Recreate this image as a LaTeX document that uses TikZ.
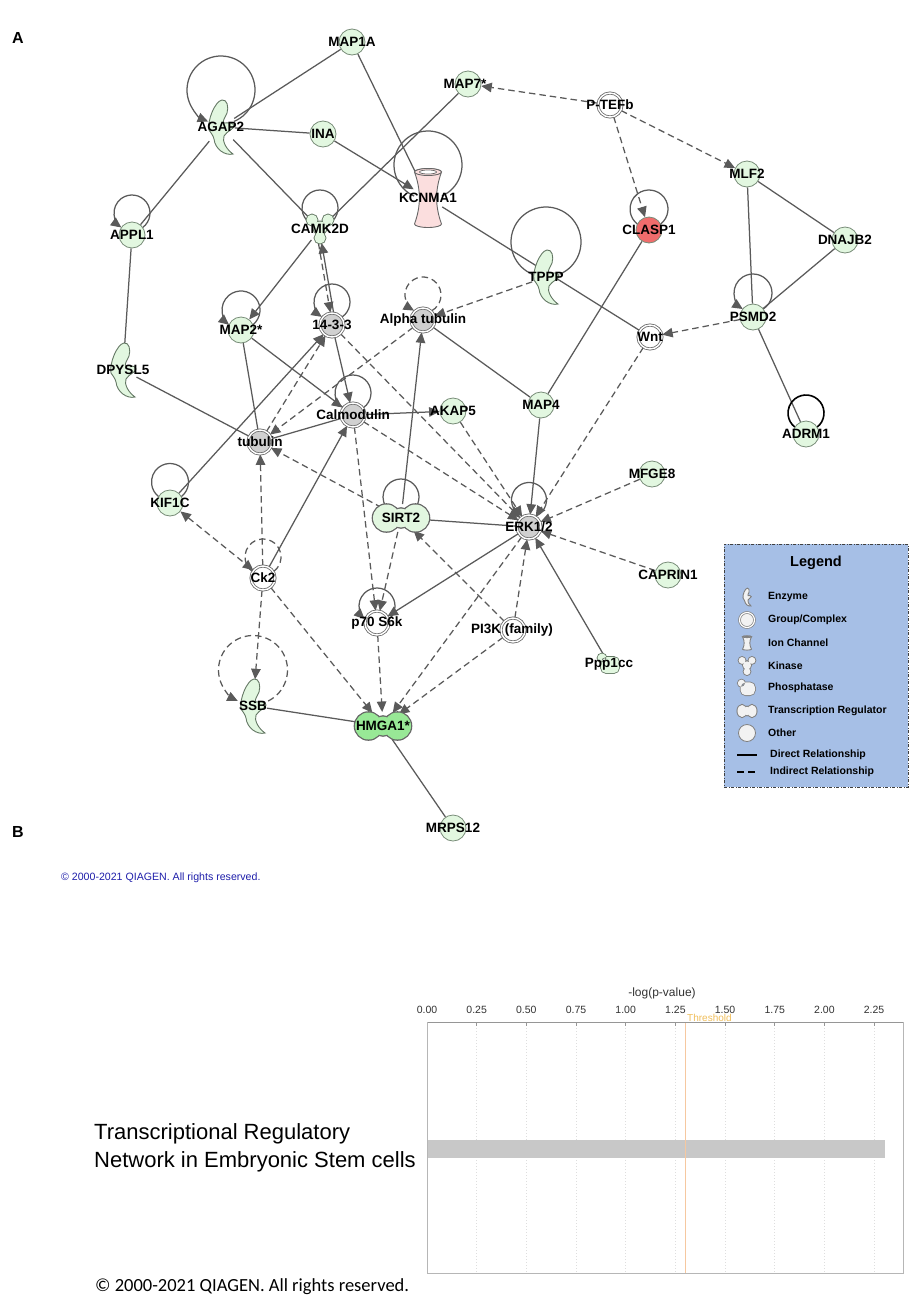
\documentclass[tikz,border=0pt]{standalone}
\usepackage{fontspec}
\setmainfont{Liberation Sans}
\newfontfamily\calfont{Carlito}
\usetikzlibrary{arrows.meta,shapes.geometric,calc}
\pgfdeclarelayer{bgl}
\pgfdeclarelayer{edges}
\pgfdeclarelayer{glyphs}
\pgfsetlayers{bgl,edges,glyphs,main}

\definecolor{edgec}{RGB}{90,90,90}
\definecolor{genefill}{RGB}{226,247,224}
\definecolor{genedraw}{RGB}{120,140,120}
\definecolor{grpfill}{RGB}{208,208,208}
\definecolor{grpdraw}{RGB}{105,105,105}
\definecolor{claspfill}{RGB}{240,108,108}
\definecolor{kcnfill}{RGB}{251,222,222}
\definecolor{hmgfill}{RGB}{152,232,150}
\definecolor{glyphdraw}{RGB}{100,120,100}
\definecolor{legfill}{RGB}{166,191,230}
\definecolor{legicon}{RGB}{242,242,242}
\definecolor{legdraw}{RGB}{128,128,128}
\definecolor{cpblue}{RGB}{30,30,170}
\definecolor{barc}{RGB}{200,200,200}
\definecolor{thrline}{RGB}{246,200,160}
\definecolor{thrt}{RGB}{240,190,90}
\definecolor{axc}{RGB}{150,150,150}
\definecolor{gridc}{RGB}{222,222,222}

\tikzset{
  edge/.style={draw=edgec, line width=1.25pt},
  dir/.style={-{Triangle[length=10.5pt,width=9.5pt]}},
  bidir/.style={{Triangle[length=10.5pt,width=9.5pt]}-{Triangle[length=10.5pt,width=9.5pt]}},
  ind/.style={dash pattern=on 6.5pt off 4pt},
  lab/.style={font=\bfseries\fontsize{13.5}{14}\selectfont, text=black, inner sep=0pt},
  gene/.style={circle, minimum size=26pt, inner sep=0pt, fill=genefill, draw=genedraw, line width=0.8pt},
  grp/.style={circle, minimum size=24pt, inner sep=0pt, draw=grpdraw, line width=0.8pt, double=white, double distance=1.4pt},
  ghost/.style={ellipse, inner sep=0pt, outer sep=0pt},
  legt/.style={font=\bfseries\fontsize{10.5}{12}\selectfont, anchor=west, inner sep=0pt},
  tickl/.style={font=\fontsize{10.5}{12}\selectfont, text=black!80, inner sep=0pt},
}

\newcommand{\selfloop}[5][]{%
  \pgfmathsetmacro{\slang}{asin(max(-1,min(1,(#5*#5-#4*#4-#3*#3)/(2*#4*#3))))}%
  \pgfmathsetmacro{\slend}{180-\slang}%
  \draw[edge,#1] ($(#2.center)+(0,#3)+({#4*cos(\slang)},{#4*sin(\slang)})$) arc[start angle=\slang, end angle=\slend, radius=#4];}

\newcommand{\enzymeglyph}[2]{\draw[fill=#1,draw=#2,line width=0.9pt] (-12,-3) .. controls (-14,6) and (-6,26) .. (1,27) .. controls (6,28) and (8,20) .. (6,14) .. controls (4,9) and (1,6) .. (3,4) .. controls (6,4) and (13,5) .. (13,1) .. controls (13,-2) and (6,-4) .. (3,-9) .. controls (1,-14) and (5,-22) .. (12,-27) .. controls (4,-29) and (-6,-22) .. (-7,-12) .. controls (-8,-8) and (-10,-6) .. cycle;}

\newcommand{\kinaseglyph}[2]{%
  \draw[draw=#2, line width=1.8pt] (-8,9) circle (5.5) (8,9) circle (5.5) (0,-9) circle (5.5) (0,1) circle (6.5);
  \fill[#1] (-8,9) circle (5.5) (8,9) circle (5.5) (0,-9) circle (5.5) (0,1) circle (6.5);}

\newcommand{\trglyph}[3]{%
  \draw[draw=#2, line width=#3] (-14.5,0) circle (13.5) (14.5,0) circle (13.5) (0,0) ellipse [x radius=9, y radius=9.5];
  \fill[#1] (-14.5,0) circle (13.5) (14.5,0) circle (13.5) (0,0) ellipse [x radius=9, y radius=9.5];}

\newcommand{\ionglyph}[2]{%
  \draw[fill=#1, draw=#2, line width=0.9pt] (-13.5,26) .. controls (-7,8) and (-7,-8) .. (-13.5,-26) arc[start angle=180, end angle=360, x radius=13.5, y radius=3.5] .. controls (7,-8) and (7,8) .. (13.5,26) arc[start angle=0, end angle=180, x radius=13.5, y radius=3.5] -- cycle;
  \draw[fill=#1, draw=#2, line width=0.9pt] (0,26) ellipse [x radius=13.5, y radius=3.5];
  \draw[fill=white, draw=#2, line width=0.7pt] (0,26) ellipse [x radius=8.5, y radius=2];}

\newcommand{\phosglyph}[2]{%
  \draw[draw=#2, line width=1.6pt] (-7,6) circle (4.5) (-8,-9) [rounded corners=5pt] rectangle (10,7);
  \fill[#1] (-7,6) circle (4.5) (-8,-9) [rounded corners=5pt] rectangle (10,7);}

\begin{document}
\begin{tikzpicture}[x=1pt,y=1pt]
\begin{pgfonlayer}{bgl}
\fill[white] (0,0) rectangle (916,-1299);
\end{pgfonlayer}
\useasboundingbox (0,0) rectangle (916,-1299);

% panel letters
\node[font=\bfseries\fontsize{16}{18}\selectfont] (pa) at (18,-38) {A};
\node[font=\bfseries\fontsize{16}{18}\selectfont] (pb) at (18,-832) {B};

% ---------- gene nodes ----------
\node[gene, label={[lab]center:MAP1A}] (map1a) at (352,-42) {};
\node[gene, label={[lab,xshift=-3pt]center:MAP7*}] (map7) at (468,-84) {};
\node[gene, label={[lab]center:INA}] (ina) at (323,-134) {};
\node[gene, label={[lab]center:MLF2}] (mlf2) at (747,-174) {};
\node[gene, fill=claspfill, label={[lab]center:CLASP1}] (clasp1) at (649,-230) {};
\node[gene, label={[lab]center:DNAJB2}] (dnajb2) at (845,-240) {};
\node[gene, label={[lab]center:APPL1}] (appl1) at (132,-235) {};
\node[gene, label={[lab]center:PSMD2}] (psmd2) at (753,-317) {};
\node[gene, label={[lab]center:MAP2*}] (map2) at (241,-330) {};
\node[gene, label={[lab]center:AKAP5}] (akap5) at (453,-411) {};
\node[gene, label={[lab]center:MAP4}] (map4) at (541,-405) {};
\node[gene, label={[lab]center:ADRM1}] (adrm1) at (806,-434) {};
\node[gene, label={[lab]center:MFGE8}] (mfge8) at (652,-474) {};
\node[gene, label={[lab]center:KIF1C}] (kif1c) at (170,-503) {};
\node[gene, label={[lab]center:CAPRIN1}] (caprin1) at (668,-575) {};
\node[gene, label={[lab]center:MRPS12}] (mrps12) at (453,-828) {};

% ---------- groups / complexes ----------
\node[grp, fill=white, label={[lab]center:P-TEFb}] (ptefb) at (610,-105) {};
\node[grp, fill=white, label={[lab]center:Wnt}] (wnt) at (650,-337) {};
\node[grp, fill=grpfill, label={[lab]center:14-3-3}] (ywha) at (332,-325) {};
\node[grp, fill=grpfill, label={[lab]center:Alpha tubulin}] (atub) at (423,-320) {};
\node[grp, fill=grpfill, label={[lab]center:Calmodulin}] (calm) at (353,-415) {};
\node[grp, fill=grpfill, label={[lab]center:tubulin}] (tub) at (260,-442) {};
\node[grp, fill=grpfill, label={[lab]center:ERK1/2}] (erk) at (529,-527) {};
\node[grp, fill=white, label={[lab]center:Ck2}] (ck2) at (263,-578) {};
\node[grp, fill=white, label={[lab]center:p70 S6k}] (p70) at (377,-623) {};
\node[grp, fill=white, label={[lab,xshift=-1pt]center:PI3K (family)}] (pi3k) at (513,-630) {};

% ---------- glyph anchor nodes ----------
\node[ghost, minimum width=28pt, minimum height=52pt, label={[lab]center:AGAP2}] (agap2) at (221,-127) {};
\node[ghost, minimum width=28pt, minimum height=52pt, label={[lab]center:TPPP}] (tppp) at (546,-277) {};
\node[ghost, minimum width=28pt, minimum height=52pt, label={[lab]center:DPYSL5}] (dpysl5) at (123,-370) {};
\node[ghost, minimum width=28pt, minimum height=54pt, label={[lab]center:SSB}] (ssb) at (253,-706) {};
\node[ghost, minimum width=30pt, minimum height=58pt, label={[lab]center:KCNMA1}] (kcnma1) at (428,-198) {};
\node[ghost, minimum width=28pt, minimum height=28pt, label={[lab]center:CAMK2D}] (camk2d) at (320,-229) {};
\node[ghost, minimum width=58pt, minimum height=28pt, label={[lab]center:SIRT2}] (sirt2) at (401,-518) {};
\node[ghost, minimum width=58pt, minimum height=28pt, label={[lab]center:HMGA1*}] (hmga1) at (383,-726) {};
\node[ghost, minimum width=22pt, minimum height=20pt, label={[lab]center:Ppp1cc}] (ppp1cc) at (609,-664) {};

% ---------- glyphs ----------
\begin{pgfonlayer}{glyphs}
\begin{scope}[shift={(agap2.center)}]\enzymeglyph{genefill}{glyphdraw}\end{scope}
\begin{scope}[shift={(tppp.center)}]\enzymeglyph{genefill}{glyphdraw}\end{scope}
\begin{scope}[shift={(dpysl5.center)}]\enzymeglyph{genefill}{glyphdraw}\end{scope}
\begin{scope}[shift={(ssb.center)}]\enzymeglyph{genefill}{glyphdraw}\end{scope}
\begin{scope}[shift={(kcnma1.center)}]\ionglyph{kcnfill}{black!60}\end{scope}
\begin{scope}[shift={(camk2d.center)}]\kinaseglyph{genefill}{glyphdraw}\end{scope}
\begin{scope}[shift={(sirt2.center)}]\trglyph{genefill}{black!60}{2.6pt}\end{scope}
\begin{scope}[shift={(hmga1.center)}]\trglyph{hmgfill}{black!60}{2.6pt}\end{scope}
\begin{scope}[shift={(ppp1cc.center)}]\phosglyph{genefill}{glyphdraw}\end{scope}
\end{pgfonlayer}

% ---------- connectors ----------
\begin{pgfonlayer}{edges}
\draw[edge] (agap2) -- (map1a);
\draw[edge] (agap2) -- (ina);
\draw[edge] (agap2) -- (appl1);
\draw[edge] (agap2) -- (camk2d);
\draw[edge] (map1a) -- (kcnma1);
\draw[edge,dir] (ina) -- (kcnma1);
\draw[edge] (map7) -- (camk2d);
\draw[edge] (kcnma1) -- (wnt);
\draw[edge] (appl1) -- (dpysl5);
\draw[edge,dir] (camk2d) -- (map2);
\draw[edge,dir] ([xshift=1.6pt]ywha.north) -- ([xshift=1.6pt]camk2d.south);
\draw[edge,ind,dir] ([xshift=-1.6pt]camk2d.south) -- ([xshift=-1.6pt]ywha.north);
\draw[edge] (map2) -- (tub);
\draw[edge] (map2) -- (calm);
\draw[edge,dir] (ywha) -- (calm);
\draw[edge] (atub) -- (map4);
\draw[edge,dir] (sirt2) -- (atub);
\draw[edge] (clasp1) -- (map4);
\draw[edge] (mlf2) -- (dnajb2);
\draw[edge] (mlf2) -- (psmd2);
\draw[edge] (dnajb2) -- (psmd2);
\draw[edge] (psmd2) -- (adrm1);
\draw[edge,dir] (map4) -- (erk);
\draw[edge,dir] (ppp1cc) -- (erk);
\draw[edge,dir] (erk) -- (p70);
\draw[edge] (sirt2) -- (erk);
\draw[edge,dir] (calm) -- (akap5);
\draw[edge] (tub) -- (calm);
\draw[edge] (dpysl5) -- (tub);
\draw[edge,dir] (kif1c) -- (ywha);
\draw[edge,dir] (ck2) -- (calm);
\draw[edge] (ssb) -- (hmga1);
\draw[edge] (hmga1) -- (mrps12);
\draw[edge,ind,dir] (ptefb) -- (map7);
\draw[edge,ind,dir] (ptefb) -- (clasp1);
\draw[edge,ind,dir] (ptefb) -- (mlf2);
\draw[edge,ind,dir] (ywha) -- (erk);
\draw[edge,ind,dir] (tub) -- (ywha);
\draw[edge,ind,dir] (tppp) -- (atub);
\draw[edge,ind,dir] (atub) -- (tub);
\draw[edge,ind,dir] (psmd2) -- (wnt);
\draw[edge,ind,dir] (wnt) -- (erk);
\draw[edge,ind,dir] (mfge8) -- (erk);
\draw[edge,ind,dir] (caprin1) -- (erk);
\draw[edge,ind,dir] (pi3k) -- (erk);
\draw[edge,ind,dir] (pi3k) -- (sirt2);
\draw[edge,ind,dir] (pi3k) -- (hmga1);
\draw[edge,ind,dir] (erk) -- (hmga1);
\draw[edge,ind,dir] (sirt2) -- (tub);
\draw[edge,ind,dir] (sirt2) -- (p70);
\draw[edge,ind,dir] (calm) -- (erk);
\draw[edge,ind,dir] (calm) -- (p70);
\draw[edge,ind,dir] (akap5) -- (erk);
\draw[edge,ind,bidir] (kif1c) -- (ck2);
\draw[edge,ind,dir] (ck2) -- (tub);
\draw[edge,ind,dir] (ck2) -- (ssb);
\draw[edge,ind,dir] (ck2) -- (hmga1);
\draw[edge,ind,dir] (p70) -- (hmga1);
% self loops
\selfloop[dir]{agap2}{37}{34}{14}
\selfloop{kcnma1}{33}{34}{14}
\selfloop{tppp}{35}{35}{14}
\selfloop[dir]{appl1}{22}{18}{13}
\selfloop{camk2d}{21}{18}{12}
\selfloop{clasp1}{21}{19}{13}
\selfloop[dir]{psmd2}{24}{19}{13}
\selfloop[dir]{map2}{20}{19}{13}
\selfloop[dir]{ywha}{23}{18}{13}
\selfloop[dir,ind]{atub}{25}{18}{13}
\selfloop[dir]{calm}{22}{18}{13}
\selfloop[dir]{erk}{27}{17.5}{14}
\selfloop{sirt2}{21}{18}{19}
\selfloop{kif1c}{21}{18.5}{13}
\selfloop[ind]{ck2}{21}{18}{13}
\selfloop[dir]{p70}{17}{18}{13}
\selfloop[dir,ind]{ssb}{36}{34.5}{16}
\selfloop[draw=black,line width=1.6pt]{adrm1}{21}{18}{13}
\end{pgfonlayer}

% ---------- legend ----------
\node[draw=black!75, fill=legfill, line width=0.8pt, dash pattern=on 3pt off 1.5pt on 1pt off 1.5pt, minimum width=184pt, minimum height=243pt, anchor=north west, inner sep=0pt] (legend) at (724,-544) {};
\node[font=\bfseries\fontsize{14.5}{16}\selectfont, inner sep=0pt] (legtitle) at (816,-563) {Legend};
\begin{scope}[shift={(747,-597)}, scale=0.33]\enzymeglyph{legicon}{legdraw}\end{scope}
\node[circle, minimum size=15pt, inner sep=0pt, draw=legdraw, line width=0.7pt, double=white, double distance=1.2pt, fill=legicon] (lgi2) at (747,-620) {};
\begin{scope}[shift={(747,-643)}, xscale=0.33, yscale=0.24]\ionglyph{legicon}{legdraw}\end{scope}
\begin{scope}[shift={(747,-666)}, scale=0.62]\kinaseglyph{legicon}{legdraw}\end{scope}
\begin{scope}[shift={(747,-688)}, scale=0.8]\phosglyph{legicon}{legdraw}\end{scope}
\begin{scope}[shift={(747,-711)}, xscale=0.34, yscale=0.45]\trglyph{legicon}{legdraw}{2pt}\end{scope}
\node[circle, minimum size=17pt, inner sep=0pt, draw=legdraw, line width=0.8pt, fill=legicon] (lgi7) at (747,-733) {};
\coordinate (ld1) at (737,-755);
\coordinate (ld2) at (757,-755);
\coordinate (li1) at (737,-772);
\coordinate (li2) at (757,-772);
\draw[line width=1.3pt, black] (ld1) -- (ld2);
\draw[line width=1.3pt, black, dash pattern=on 7pt off 4pt] (li1) -- (li2);
\node[legt] (lt1) at (768,-597) {Enzyme};
\node[legt] (lt2) at (768,-620) {Group/Complex};
\node[legt] (lt3) at (768,-643) {Ion Channel};
\node[legt] (lt4) at (768,-666) {Kinase};
\node[legt] (lt5) at (768,-688) {Phosphatase};
\node[legt] (lt6) at (768,-711) {Transcription Regulator};
\node[legt] (lt7) at (768,-733) {Other};
\node[legt] (lt8) at (770,-755) {Direct Relationship};
\node[legt] (lt9) at (770,-772) {Indirect Relationship};

% ---------- copyright (network) ----------
\node[font=\fontsize{10.6}{12}\selectfont, text=cpblue, anchor=west, inner sep=0pt] (cp1) at (61,-878) {\textcopyright\ 2000-2021 QIAGEN. All rights reserved.};

% ---------- chart ----------
\foreach \i/\t in {0/0.00,1/0.25,2/0.50,3/0.75,4/1.00,5/1.25,6/1.50,7/1.75,8/2.00,9/2.25}{
  \pgfmathsetmacro{\xx}{427+\i*49.675}
  \draw[gridc, line width=0.7pt, dash pattern=on 1pt off 2pt] (\xx,-1022) -- (\xx,-1273);
  \draw[axc, line width=0.8pt] (\xx,-1022) -- (\xx,-1026);
  \node[tickl] (tk\i) at (\xx,-1010) {\t};
}
\fill[barc] (427,-1140) rectangle (885,-1158);
\coordinate (thtop) at (685.3,-1022);
\coordinate (thbot) at (685.3,-1273);
\draw[draw=thrline, line width=1.2pt] (thtop) -- (thbot);
\node[font=\fontsize{10}{11}\selectfont, text=thrt, anchor=west, inner sep=0pt] (thr) at (687,-1018) {Threshold};
\draw[axc, line width=1pt] (427,-1022) -- (903,-1022);
\draw[axc!70, line width=0.9pt] (427,-1022) -- (427,-1273) -- (903,-1273) -- (903,-1022);
\node[font=\fontsize{12}{14}\selectfont, text=black!80, inner sep=0pt] (xtitle) at (662,-993) {-log(p-value)};
\node[font=\fontsize{22}{28}\selectfont, align=left, anchor=west, inner sep=0pt] (ylab) at (94,-1148) {Transcriptional Regulatory\\Network in Embryonic Stem cells};
\node[font=\calfont\fontsize{18.5}{20}\selectfont, anchor=west, inner sep=0pt] (cp2) at (95,-1287) {\textcopyright\ 2000-2021 QIAGEN. All rights reserved.};
\end{tikzpicture}
\end{document}
